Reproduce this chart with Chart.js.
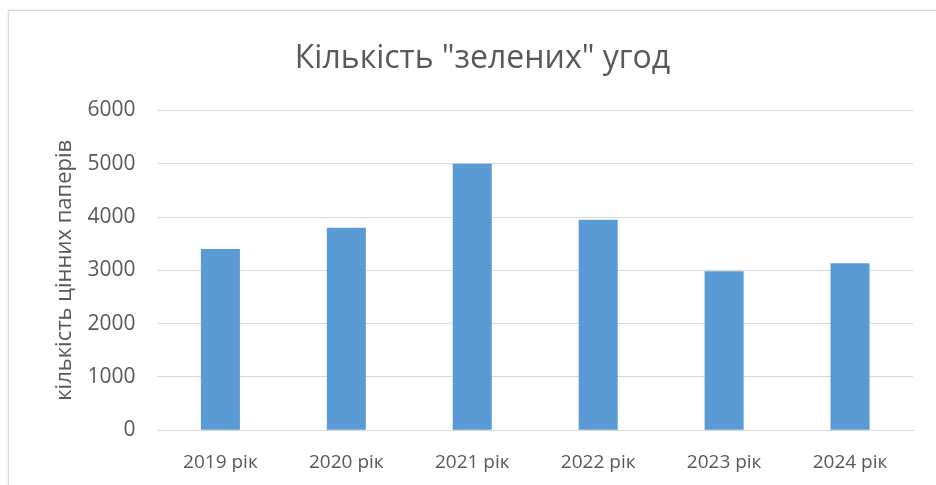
<!DOCTYPE html>
<html>
<head>
<meta charset="utf-8">
<script src="https://cdn.jsdelivr.net/npm/chart.js@4"></script>
<style>
  html, body { margin: 0; padding: 0; background: #fff; }
  .frame {
    position: absolute; left: 8px; top: 10px;
    width: 940px; height: 480px;
    border: 1px solid #d9d9d9;
    box-shadow: 0 0 2px rgba(0,0,0,0.15);
  }
  canvas { position: absolute; left: 0; top: 0; }
</style>
</head>
<body>
<div class="frame"></div>
<canvas id="chart" width="936" height="485"></canvas>
<script>
const years = ["2019 рік", "2020 рік", "2021 рік", "2022 рік", "2023 рік", "2024 рік"];
const deals = [3400, 3800, 5000, 3950, 2980, 3130];
const yTicks = [0, 1000, 2000, 3000, 4000, 5000, 6000];

const textColor = "#595959";
const fontFamily = "'Open Sans', 'Noto Sans', sans-serif";

new Chart(document.getElementById("chart").getContext("2d"), {
  type: "bar",
  data: {
    labels: years,
    datasets: [{
      data: deals,
      backgroundColor: "#5B9BD5",
      barPercentage: 0.31,
      categoryPercentage: 1.0,
    }],
  },
  options: {
    responsive: false,
    animation: false,
    layout: { padding: { left: 52, right: 23, top: 10, bottom: -10 } },
    plugins: {
      legend: { display: false },
      tooltip: { enabled: false },
      title: {
        display: true,
        text: 'Кількість "зелених" угод',
        color: textColor,
        font: { family: fontFamily, size: 32, weight: "normal" },
        padding: { top: 30, bottom: 32 },
      },
    },
    scales: {
      x: {
        grid: { display: false, drawTicks: false },
        border: { display: true, color: "#d9d9d9", width: 1 },
        ticks: {
          color: textColor,
          font: { family: fontFamily, size: 19 },
          padding: 21,
        },
      },
      y: {
        min: yTicks[0],
        max: yTicks[yTicks.length - 1],
        afterBuildTicks: (axis) => { axis.ticks = yTicks.map((v) => ({ value: v })); },
        // pull the plot closer to the rotated axis title
        afterFit: (axis) => { axis.width -= 17; },
        grid: { color: "#d9d9d9", lineWidth: 1, drawTicks: false },
        border: { display: false },
        ticks: {
          color: textColor,
          font: { family: fontFamily, size: 21 },
          padding: 22,
          callback: (v) => String(v),
        },
        title: {
          display: true,
          text: "кількість цінних паперів",
          color: textColor,
          font: { family: fontFamily, size: 22 },
          padding: { top: 0, bottom: 4 },
        },
      },
    },
  },
});
</script>
</body>
</html>
